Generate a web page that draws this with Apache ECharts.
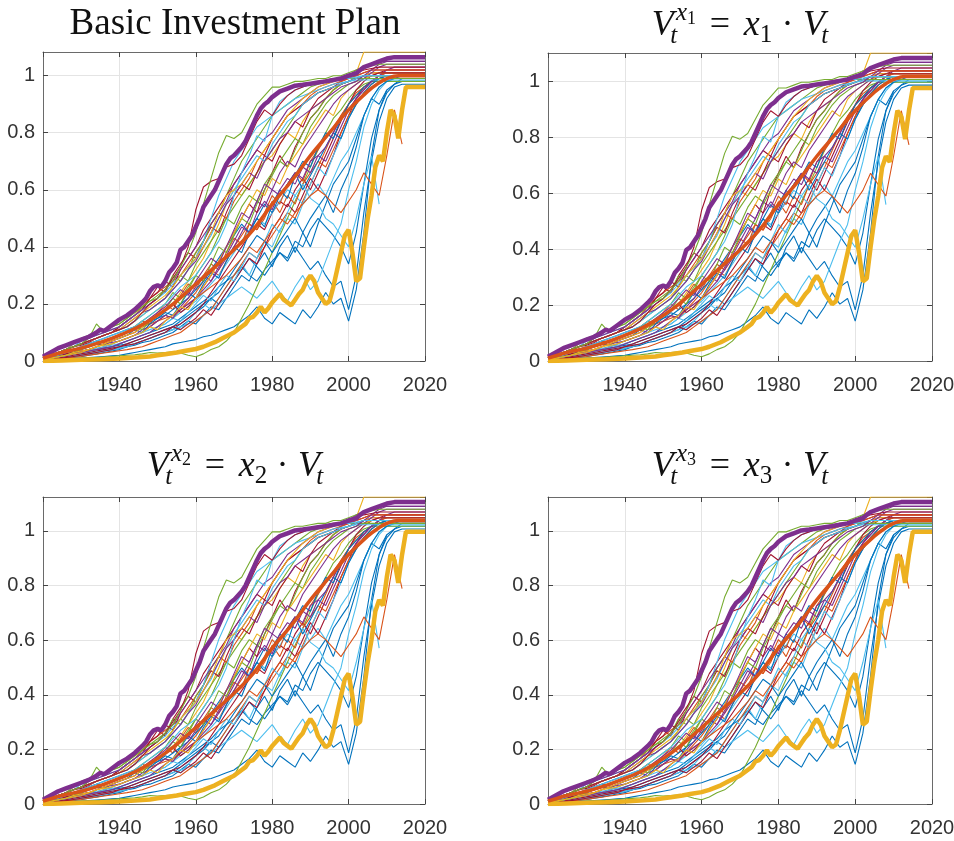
<!DOCTYPE html>
<html><head><meta charset="utf-8">
<script src="https://cdn.jsdelivr.net/npm/echarts@6/dist/echarts.min.js"></script>
<style>html,body{margin:0;padding:0;background:#fff}#c{width:954px;height:841px}</style>
</head><body><div id="c"></div>
<script>
// ---------- DATA ----------
const xTicks = [1940, 1960, 1980, 2000, 2020];
const panelTitles = ['Basic Investment Plan', '1', '2', '3']; // 1,2,3 = subscript of x in V_t^{x_k} = x_k · V_t
const panelScale = [1.0, 1.017, 1.038, 1.038];   // x_k multiplier
const topValue = 1.083;                            // top of first panel (tight axis)

const thinYears = [1920,1922,1924,1926,1928,1930,1932,1934,1936,1938,1940,1942,1944,1946,1948,1950,1952,1954,1956,1958,1960,1962,1964,1966,1968,1970,1972,1974,1976,1978,1980,1982,1984,1986,1988,1990,1992,1994,1996,1998,2000,2002,2004,2006,2008,2010,2012,2014,2016,2018,2020];

const thinA = [.01, .02,.03,.04,.05,.06, .08,.13,.10,.12,.13, .15,.17,.19,.21,.22, .25,.28,.33,.38,.45, .55,.64,.73,.79,.78, .80,.85,.90,.93,.96, .96,.97,.98,.98,.985, .99,.99,1.0,1.0,1.01, 1.02,1.03,1.035,1.04,1.04, 1.04,1.04,1.04,1.04,1.04];
const thinB = [.01, .02,.03,.04,.05,.06, .07,.08,.09,.10,.11, .12,.14,.17,.20,.22, .25,.29,.33,.40,.53, .61,.63,.64,.68,.69, .72,.78,.84,.88,.86, .90,.93,.95,.96,.97, .98,.985,.99,.99,1.0, 1.01,1.02,1.025,1.03,1.03, 1.03,1.03,1.03,1.03,1.03];
const thinC = [.01, .015,.02,.03,.04,.05, .06,.07,.08,.09,.10, .11,.12,.14,.16,.18, .20,.23,.26,.28,.30, .34,.38,.42,.48,.58, .66,.72,.79,.77,.86, .91,.93,.95,.96,.97, .975,.98,.985,.99,.99, .995,1.0,1.0,1.0,1.0, 1.0,1.0,1.0,1.0,1.0];
const thinD = [0, .002,.004,.006,.008,.01, .012,.014,.016,.018,.02, .025,.03,.035,.04,.045, .05,.06,.065,.07,.075, .085,.09,.10,.11,.12, .14,.16,.19,.15,.13, .17,.15,.13,.18,.15, .19,.24,.20,.22,.14, .25,.45,.72,.88,.95, .97,.98,.98,.98,.98];
const thinE = [.005, .01,.015,.02,.025,.03, .035,.04,.045,.05,.06, .07,.08,.09,.10,.11, .12,.13,.15,.17,.19, .21,.23,.26,.28,.30, .33,.30,.28,.32,.35, .38,.36,.42,.40,.46, .50,.47,.44,.40,.34, .45,.62,.78,.88,.94, .97,.99,.99,.99,.99];
const thinF = [.01, .02,.03,.04,.05,.06, .07,.08,.09,.10,.11, .13,.15,.17,.19,.21, .23,.26,.30,.33,.36, .40,.45,.52,.58,.60, .62,.66,.70,.74,.78, .82,.86,.89,.92,.94, .96,.97,.98,.99,1.0, 1.01,1.083,1.083,1.083,1.083, 1.083,1.083,1.083,1.083,1.083];
const thinG = [0, .002,.004,.006,.008,.01, .01,.012,.014,.016,.018, .02,.022,.025,.03,.028, .03,.032,.028,.02,.015, .025,.04,.05,.07,.10, .15,.20,.26,.32,.38, .44,.50,.56,.62,.68, .74,.80,.85,.88,.92, .95,.97,.98,.98,.98, .98,.98,.98,.98,.98];
const thinH = [.005, .01,.015,.02,.025,.03, .035,.04,.05,.06,.07, .08,.09,.10,.11,.12, .13,.15,.17,.19,.21, .24,.27,.30,.34,.38, .42,.46,.50,.48,.52, .56,.60,.58,.62,.57, .55,.50,.48,.44,.40, .50,.62,.72,.55];
const thinI = [.01, .015,.02,.025,.03,.04, .05,.06,.07,.08,.09, .10,.11,.12,.13,.14, .15,.16,.18,.20,.22, .24,.26,.28,.30,.33, .36,.40,.38,.42,.46, .50,.48,.52,.55,.58, .60,.58,.55,.52,.56, .60,.66,.62,.58,.72, .88,.76];
const thinJ = [.01, .02,.03,.04,.05,.06, .07,.08,.09,.10,.11, .13,.15,.17,.18,.20, .22,.25,.28,.32,.35, .40,.45,.50,.55,.58, .62,.66,.64,.70,.74, .78,.80,.84,.86,.88, .90,.92,.94,.96,.97, .98,1.0,1.02,1.04,1.05, 1.05,1.05,1.05,1.05,1.05];
const thinK = [.005, .01,.015,.02,.025,.03, .035,.04,.045,.05,.06, .07,.08,.09,.10,.12, .14,.16,.18,.20,.22, .25,.28,.32,.36,.40, .45,.50,.56,.54,.60, .58,.62,.66,.64,.70, .72,.75,.80,.85,.88, .92,.95,.98,1.0,1.0, 1.0,1.0,1.0,1.0,1.0];
const thinL = [.01, .015,.02,.025,.03,.035, .04,.05,.06,.07,.08, .09,.10,.12,.14,.16, .18,.20,.17,.19,.22, .26,.30,.35,.40,.45, .50,.55,.52,.60,.66, .72,.68,.75,.80,.85, .88,.92,.95,.97,.98, .99,1.0,1.01,1.01,1.01, 1.01,1.01,1.01,1.01,1.01];
const thinN = [.01, .015,.02,.03,.04,.05, .06,.07,.08,.09,.10, .11,.12,.13,.14,.15, .16,.18,.20,.22,.25, .28,.32,.36,.40,.44, .48,.45,.50,.55,.52, .58,.62,.66,.60,.65, .70,.75,.80,.78,.85, .90,.94,.97,.99,1.0, 1.0,1.0,1.0,1.0,1.0];
const thinO = [0, .005,.01,.015,.02,.025, .03,.035,.04,.045,.05, .055,.06,.07,.08,.09, .10,.11,.12,.13,.14, .16,.18,.20,.22,.24, .26,.24,.22,.25,.28, .24,.21,.26,.30,.25, .28,.35,.42,.48,.60, .70,.82,.90,.95,.98, .99,.99,.99,.99,.99];
const thinP = [.01, .02,.03,.04,.05,.06, .07,.08,.09,.10,.12, .14,.16,.19,.22,.24, .26,.28,.30,.34,.38, .42,.48,.52,.50,.56, .60,.64,.70,.74,.78, .82,.86,.88,.90,.93, .95,.96,.97,.98,.99, 1.0,1.01,1.02,1.02,1.02, 1.02,1.02,1.02,1.02,1.02];
const thinQ = [.005, .01,.015,.02,.025,.03, .04,.05,.06,.07,.08, .09,.10,.12,.14,.16, .18,.20,.24,.28,.32, .36,.42,.48,.55,.60, .58,.62,.66,.70,.72, .76,.80,.78,.84,.88, .90,.92,.95,.97,.98, .99,1.0,1.01,1.01,1.01, 1.01,1.01,1.01,1.01,1.01];
const thinR = [.01, .02,.03,.04,.05,.06, .07,.08,.09,.10,.11, .12,.14,.16,.18,.20, .22,.26,.30,.28,.34, .38,.42,.46,.50,.54, .58,.62,.66,.70,.74, .78,.82,.86,.90,.92, .94,.95,.96,.97,.98, .99,1.0,1.0,1.0,1.0, 1.0,1.0,1.0,1.0,1.0];
const thinS = [.005, .01,.015,.02,.025,.03, .035,.04,.045,.05,.055, .06,.07,.08,.09,.10, .11,.12,.14,.16,.18, .20,.22,.24,.28,.32, .36,.40,.44,.42,.38, .42,.46,.50,.45,.40, .48,.55,.62,.66,.70, .78,.86,.92,.96,.98, .99,1.0,1.0,1.0,1.0];
const thinT = [0, .005,.01,.015,.02,.025, .03,.035,.04,.045,.05, .06,.07,.08,.09,.10, .11,.12,.13,.15,.17, .20,.24,.28,.32,.36, .40,.44,.48,.46,.52, .56,.54,.60,.64,.60, .66,.72,.78,.84,.90, .95,.98,1.0,1.01,1.02, 1.02,1.02,1.02,1.02,1.02];
const thinU = [0, .003,.006,.01,.013,.016, .02,.024,.028,.032,.036, .04,.045,.05,.06,.07, .08,.09,.10,.12,.14, .16,.18,.22,.26,.30, .34,.38,.36,.40,.44, .48,.52,.50,.56,.62, .68,.74,.80,.86,.90, .94,.96,.98,.99,.99, .99,.99,.99,.99,.99];
const thinV = [.01, .02,.03,.04,.05,.07, .08,.09,.10,.11,.12, .14,.16,.18,.20,.22, .24,.27,.30,.33,.36, .42,.50,.58,.64,.70, .74,.78,.82,.84,.86, .88,.90,.92,.93,.94, .95,.96,.97,.975,.98, .985,.985,.985,.985,.985, .985,.985,.985,.985,.985];
const thinW = [.01, .02,.03,.04,.05,.06, .08,.09,.10,.11,.12, .14,.16,.18,.20,.22, .25,.28,.32,.36,.40, .44,.48,.52,.56,.62, .66,.70,.74,.78,.80, .84,.88,.90,.92,.94, .96,.97,.98,.99,1.0, 1.02,1.03,1.04,1.05,1.05, 1.05,1.05,1.05,1.05,1.05];
const thinX = [.01, .02,.03,.04,.06,.08, .09,.10,.11,.12,.13, .15,.17,.19,.21,.23, .25,.30,.28,.32,.38, .42,.48,.52,.58,.64, .70,.74,.78,.82,.86, .88,.90,.92,.94,.96, .97,.98,.985,.99,.99, .99,.99,.99,.99,.99, .99,.99,.99,.99,.99];
const thinA2 = [.01, .015,.02,.025,.03,.04, .05,.06,.055,.07,.08, .09,.11,.10,.13,.15, .17,.16,.20,.24,.22, .27,.31,.29,.35,.40, .38,.45,.50,.47,.55, .60,.57,.65,.70,.68, .75,.80,.78,.85,.90, .93,.96,.98,.99,1.0, 1.0,1.0,1.0,1.0,1.0];
const thinB2 = [.01, .02,.025,.035,.04,.05, .06,.07,.065,.08,.09, .10,.12,.14,.13,.17, .20,.18,.23,.27,.25, .30,.34,.32,.38,.43, .41,.48,.46,.52,.58, .55,.62,.66,.63,.70, .74,.78,.82,.86,.90, .93,.96,.98,1.0,1.01, 1.01,1.01,1.01,1.01,1.01];
const thinC2 = [.005, .01,.02,.025,.03,.035, .04,.05,.06,.065,.07, .08,.09,.11,.12,.14, .16,.15,.19,.22,.26, .30,.28,.33,.37,.42, .47,.45,.52,.56,.53, .60,.64,.62,.68,.66, .72,.70,.76,.82,.88, .92,.95,.98,1.0,1.02, 1.03,1.03,1.03,1.03,1.03];
const thinD2 = [.005, .01,.015,.02,.025,.03, .04,.045,.05,.055,.06, .07,.08,.09,.10,.12, .13,.15,.14,.17,.20, .23,.21,.26,.30,.28, .33,.38,.36,.42,.48, .45,.52,.58,.55,.62, .68,.65,.72,.78,.85, .90,.94,.96,.98,.99, .99,.99,.99,.99,.99];
const thinE2 = [.01, .02,.03,.04,.05,.055, .065,.08,.09,.10,.12, .14,.16,.18,.22,.26, .24,.30,.34,.38,.36, .42,.47,.45,.52,.58, .62,.60,.66,.72,.70, .76,.80,.84,.82,.88, .92,.94,.96,.98,.99, 1.0,1.01,1.02,1.02,1.02, 1.02,1.02,1.02,1.02,1.02];
const thinF2 = [.01, .015,.025,.03,.035,.045, .05,.06,.07,.08,.09, .10,.12,.11,.14,.16, .18,.22,.20,.25,.30, .28,.34,.40,.38,.44, .50,.48,.55,.60,.65, .70,.68,.74,.80,.85, .88,.92,.95,.97,.98, .99,1.0,1.0,1.0,1.0, 1.0,1.0,1.0,1.0,1.0];
const thinG2 = [.005, .01,.015,.02,.03,.035, .04,.05,.055,.06,.07, .08,.09,.10,.12,.11, .14,.16,.19,.18,.22, .26,.30,.35,.40,.45, .50,.55,.60,.58,.64, .62,.68,.72,.76,.80, .84,.88,.86,.92,.95, .97,.99,1.0,1.0,1.0, 1.0,1.0,1.0,1.0,1.0];
const thinH2 = [0, .003,.006,.009,.012,.015, .02,.025,.03,.035,.04, .05,.055,.065,.07,.08, .09,.10,.12,.14,.13, .16,.19,.18,.22,.26, .30,.28,.34,.38,.33, .40,.44,.38,.45,.50, .54,.58,.52,.60,.66, .75,.86,.92,.90,.95];
const thinI2 = [0, .004,.008,.012,.016,.02, .025,.03,.035,.04,.045, .05,.06,.07,.08,.09, .10,.12,.11,.14,.17, .20,.18,.22,.26,.30, .34,.30,.36,.42,.40, .46,.50,.48,.55,.58, .62,.58,.64,.70,.74, .80,.86,.92,.96,.98, .98,.98,.98,.98,.98];
const thinJ2 = [.01, .015,.02,.03,.04,.045, .05,.06,.07,.08,.09, .10,.11,.13,.15,.17, .19,.22,.25,.23,.28, .32,.36,.34,.40,.46, .52,.50,.56,.62,.60, .66,.70,.68,.74,.78, .82,.86,.90,.93,.95, .97,.99,1.01,1.03,1.04, 1.04,1.04,1.04,1.04,1.04];
const thinK2 = [.005, .01,.015,.02,.025,.03, .035,.04,.05,.06,.07, .08,.09,.10,.12,.14, .16,.15,.18,.21,.24, .28,.32,.30,.35,.40, .44,.48,.46,.50,.56, .52,.58,.55,.62,.66, .70,.68,.74,.80,.86, .90,.94,.97,.99,1.0, 1.0,1.0,1.0,1.0,1.0];
const thinL2 = [0, .004,.008,.012,.016,.02, .025,.03,.035,.04,.05, .055,.06,.07,.08,.09, .10,.12,.11,.13,.15, .18,.16,.20,.24,.28, .32,.36,.34,.40,.46, .50,.55,.52,.58,.64, .60,.66,.72,.80,.86, .92,.96,.98,1.0,1.01, 1.01,1.01,1.01,1.01,1.01];
const thinM2 = [.005, .01,.015,.02,.03,.04, .05,.06,.07,.08,.09, .10,.12,.14,.16,.18, .20,.24,.22,.26,.30, .34,.38,.44,.50,.48, .54,.58,.56,.62,.66, .70,.74,.78,.76,.82, .86,.90,.93,.95,.97, .98,.99,1.0,1.0,1.0, 1.0,1.0,1.0,1.0,1.0];
const thinN2 = [.01, .02,.03,.04,.05,.06, .07,.08,.09,.10,.11, .12,.14,.16,.18,.20, .22,.25,.28,.32,.36, .40,.44,.50,.55,.60, .64,.68,.72,.70,.76, .80,.84,.86,.90,.92, .94,.95,.96,.97,.98, .99,1.0,1.0,1.0,1.0, 1.0,1.0,1.0,1.0,1.0];
const thinO2 = [0, .004,.008,.012,.016,.02, .025,.03,.035,.04,.045, .05,.06,.07,.08,.09, .10,.11,.13,.15,.17, .19,.22,.20,.24,.28, .32,.36,.33,.30,.34, .38,.35,.40,.36,.32, .35,.30,.26,.28,.18, .30,.52,.70,.84,.92, .96,.97,.97,.97,.97];
const thinP2 = [.01, .02,.03,.04,.05,.06, .07,.08,.09,.10,.12, .14,.16,.18,.22,.24, .28,.26,.32,.36,.40, .46,.50,.54,.58,.62, .66,.70,.74,.72,.78, .82,.86,.88,.90,.92, .94,.95,.96,.97,.98, .99,1.0,1.0,1.01,1.01, 1.01,1.01,1.01,1.01,1.01];

const thinLines = [thinD, thinO2, thinE, thinH2, thinO, thinI2, thinG, thinU, thinL2, thinS, thinT, thinD2, thinK2, thinH, thinI,
  thinB2, thinA2, thinN, thinK, thinC2, thinL, thinQ, thinM2, thinR, thinF2, thinG2, thinE2, thinJ2, thinP, thinX, thinP2, thinN2,
  thinV, thinJ, thinW, thinF, thinC, thinB, thinA];

// thick highlighted paths: [year, value]
const purplePath = [[1920,.015],[1922,.03],[1924,.045],[1926,.055],[1928,.065],[1930,.075],[1932,.085],[1934,.10],[1935,.11],[1936,.105],[1938,.125],[1940,.145],[1942,.16],[1944,.18],[1946,.205],[1947,.22],[1948,.245],[1949,.26],[1950,.265],[1951,.26],[1952,.28],[1953,.31],[1954,.325],[1955,.345],[1956,.39],[1957,.40],[1958,.42],[1959,.44],[1960,.47],[1961,.50],[1962,.54],[1963,.56],[1964,.58],[1965,.60],[1966,.63],[1967,.66],[1968,.69],[1969,.71],[1970,.72],[1971,.735],[1972,.75],[1973,.77],[1974,.80],[1975,.83],[1976,.86],[1977,.885],[1978,.90],[1979,.91],[1980,.925],[1982,.945],[1984,.955],[1986,.965],[1988,.968],[1990,.972],[1992,.976],[1994,.98],[1996,.985],[1998,.99],[2000,1.0],[2002,1.008],[2003,1.02],[2004,1.03],[2006,1.04],[2008,1.05],[2010,1.06],[2012,1.065],[2020,1.065]];
const yellowPath = [[1920,0],[1925,.002],[1930,.004],[1935,.006],[1940,.009],[1945,.013],[1948,.016],[1950,.02],[1952,.024],[1955,.03],[1957,.035],[1960,.042],[1962,.05],[1965,.066],[1967,.08],[1970,.10],[1972,.12],[1973,.13],[1974,.15],[1975,.155],[1976,.17],[1977,.19],[1978,.17],[1979,.185],[1980,.205],[1981,.22],[1982,.235],[1983,.215],[1984,.205],[1985,.195],[1986,.215],[1987,.235],[1988,.25],[1989,.28],[1990,.30],[1991,.28],[1992,.24],[1993,.22],[1994,.20],[1995,.21],[1996,.26],[1997,.32],[1998,.38],[1999,.44],[2000,.46],[2001,.38],[2002,.28],[2003,.29],[2004,.40],[2005,.50],[2006,.58],[2007,.68],[2008,.72],[2009,.70],[2010,.80],[2011,.88],[2012,.86],[2013,.78],[2014,.88],[2015,.96],[2020,.96]];
const orangePath = [[1920,.01],[1925,.03],[1930,.045],[1935,.065],[1940,.09],[1945,.12],[1950,.16],[1955,.21],[1960,.27],[1965,.33],[1970,.39],[1975,.46],[1980,.55],[1985,.63],[1990,.72],[1995,.80],[2000,.88],[2005,.945],[2008,.975],[2010,.99],[2013,1.0],[2020,1.0]];

// ---------- STYLE / LAYOUT ----------
const C = {blue:'#0072BD', orange:'#D95319', yellow:'#EDB120', purple:'#7E2F8E', green:'#77AC30', lblue:'#4DBEEE', red:'#A2142F'};
const thinColors = [C.blue, C.blue, C.blue, C.blue, C.lblue, C.lblue, C.green, C.orange, C.red, C.blue, C.red, C.lblue, C.orange, C.lblue, C.orange,
  C.orange, C.blue, C.blue, C.purple, C.purple, C.red, C.yellow, C.green, C.green, C.green, C.yellow, C.red, C.purple, C.orange, C.green, C.red, C.lblue,
  C.lblue, C.purple, C.purple, C.yellow, C.lblue, C.red, C.green];
const grids = [
  {left:43, top:52, width:382, height:309},
  {left:548, top:53, width:384, height:308},
  {left:43, top:497, width:382, height:307},
  {left:548, top:497, width:384, height:307}
];
const titleCx = [235, 740, 235, 740];
const titleBase = [34, 35, 476, 476];

const frameColor = '#6a6a6a';
const option = {animation:false, backgroundColor:'#fff', grid:[], xAxis:[], yAxis:[], series:[], graphic:[]};

grids.forEach((g, p) => {
  option.grid.push(Object.assign({outerBoundsMode:'none', containLabel:false}, g));
  const ymax = topValue * panelScale[p];
  const tickStyle = {show:true, inside:true, length:5, lineStyle:{color:'#444', width:1}};
  option.xAxis.push({gridIndex:p, type:'value', position:'bottom', min:1920, max:2020, interval:20,
    axisLine:{show:true, onZero:false, lineStyle:{color:frameColor, width:1}},
    axisTick:tickStyle,
    axisLabel:{color:'#333', fontSize:20, fontFamily:'Liberation Sans', margin:14,
      formatter: v => xTicks.includes(v) ? String(v) : ''},
    splitLine:{show:true, lineStyle:{color:'#e4e4e4', width:1}}});
  option.xAxis.push({gridIndex:p, type:'value', position:'top', min:1920, max:2020, interval:20,
    axisLine:{show:true, onZero:false, lineStyle:{color:frameColor, width:1}},
    axisTick:tickStyle, axisLabel:{show:false}, splitLine:{show:false}});
  const yl = v => (Math.abs(v*5 - Math.round(v*5)) < 1e-6 && v <= 1.0001) ? String(Math.round(v*10)/10) : '';
  option.yAxis.push({gridIndex:p, type:'value', position:'left', min:0, max:ymax, interval:0.2,
    axisLine:{show:true, onZero:false, lineStyle:{color:frameColor, width:1}},
    axisTick:tickStyle,
    axisLabel:{color:'#333', fontSize:20, fontFamily:'Liberation Sans', margin:8, formatter:yl, showMaxLabel:false},
    splitLine:{show:true, lineStyle:{color:'#e4e4e4', width:1}}});
  option.yAxis.push({gridIndex:p, type:'value', position:'right', min:0, max:ymax, interval:0.2,
    axisLine:{show:true, onZero:false, lineStyle:{color:frameColor, width:1}},
    axisTick:tickStyle, axisLabel:{show:false}, splitLine:{show:false}});

  const s = panelScale[p];
  thinLines.forEach((vals, i) => {
    option.series.push({type:'line', xAxisIndex:2*p, yAxisIndex:2*p, symbol:'none', silent:true, clip:true,
      data: vals.map((v, j) => [thinYears[j], v * s]),
      lineStyle:{width:1.1, color:thinColors[i]}});
  });
  option.series.push({type:'line', xAxisIndex:2*p, yAxisIndex:2*p, symbol:'none', silent:true, clip:true,
    data: purplePath.map(d => [d[0], d[1]*s]), lineStyle:{width:4.5, color:C.purple}});
  option.series.push({type:'line', xAxisIndex:2*p, yAxisIndex:2*p, symbol:'none', silent:true, clip:true,
    data: yellowPath.map(d => [d[0], d[1]*s]), lineStyle:{width:4.5, color:C.yellow}});
  option.series.push({type:'line', xAxisIndex:2*p, yAxisIndex:2*p, symbol:'none', silent:true, clip:true,
    smooth:0.4, data: orangePath.map(d => [d[0], d[1]*s]), lineStyle:{width:3.5, color:C.orange}});
});

// ---------- TITLES ----------
const mctx = document.createElement('canvas').getContext('2d');
const SERIF = 'Liberation Serif';
function tw(t, size, it){ mctx.font = (it?'italic ':'') + size + 'px "' + SERIF + '"'; return mctx.measureText(t).width; }
function textEl(t, x, base, size, it){
  return {type:'text', x:x, y:base - 0.27*size, silent:true,
    style:{text:t, fontSize:size, fontFamily:SERIF, fontStyle: it?'italic':'normal', fill:'#111',
      align:'left', textAlign:'left', verticalAlign:'middle', textVerticalAlign:'middle'}};
}
function mathTitle(k, cx, base){
  const F = 36, S = 25, SS = 18;
  const items = []; let x = 0;
  const put = (t, dx, dy, size, it) => items.push([t, x + dx, dy, size, it]);
  put('V', 0, 0, F, true); const wV = tw('V', F, true);
  put('t', wV - 0.10*F, 0.22*F, S, true);
  const supX = wV + 0.06*F;
  items.push(['x', x + supX, -0.40*F, S, true]);
  items.push([k, x + supX + tw('x', S, true), -0.30*F, SS, false]);
  x += Math.max(wV - 0.10*F + tw('t', S, true), supX + tw('x', S, true) + tw(k, SS, false));
  x += 0.38*F; put('=', 0, 0, F, false); x += tw('=', F, false) + 0.38*F;
  put('x', 0, 0, F, true); x += tw('x', F, true);
  put(k, 0, 0.2*F, S, false); x += tw(k, S, false);
  x += 0.26*F; put('\u00B7', 0, 0, F, false); x += tw('\u00B7', F, false) + 0.26*F;
  put('V', 0, 0, F, true); x += tw('V', F, true) - 0.10*F;
  put('t', 0, 0.22*F, S, true); x += tw('t', S, true);
  const x0 = cx - x/2;
  return items.map(it => textEl(it[0], x0 + it[1], base + it[2], it[3], it[4]));
}
panelTitles.forEach((t, p) => {
  if (p === 0) {
    const w = tw(t, 37, false);
    option.graphic.push(textEl(t, titleCx[p] - w/2, titleBase[p], 37, false));
  } else {
    option.graphic.push(...mathTitle(t, titleCx[p], titleBase[p]));
  }
});

const chart = echarts.init(document.getElementById('c'), null, {renderer:'canvas'});
chart.setOption(option);
</script>
</body></html>
